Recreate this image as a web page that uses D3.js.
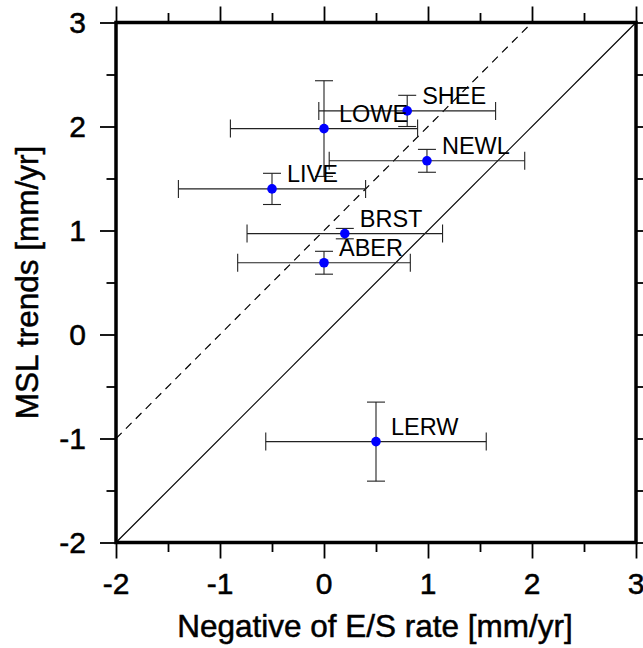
<!DOCTYPE html>
<html>
<head>
<meta charset="utf-8">
<script src="https://cdn.jsdelivr.net/npm/d3@7"></script>
<style>
  body { margin: 0; background: #fff; }
  text { font-family: "Liberation Sans", Arial, sans-serif; fill: #000; }
  .heavy { stroke: #000; stroke-width: 0.5px; }
</style>
</head>
<body>
<div id="chart"></div>
<script>
// station trends: x = negative of E/S rate, y = MSL trend (mm/yr)
const stations = ['SHEE', 'LOWE', 'NEWL', 'LIVE', 'BRST', 'ABER', 'LERW'];
const esRate = [0.80, 0.00, 0.99, -0.50, 0.20, 0.00, 0.50];
const mslTrend = [2.15, 1.98, 1.67, 1.40, 0.97, 0.69, -1.03];
const esErr = [0.85, 0.90, 0.94, 0.90, 0.94, 0.83, 1.06];
const mslErr = [0.15, 0.46, 0.11, 0.15, 0.05, 0.11, 0.38];
const majorTicks = [-2, -1, 0, 1, 2, 3];
const minorTicks = [-1.5, -0.5, 0.5, 1.5, 2.5];

const width = 643, height = 648;
const margin = { top: 22.5, right: 7, bottom: 105.5, left: 116 };
const innerW = width - margin.left - margin.right;
const innerH = height - margin.top - margin.bottom;

const svg = d3.select('#chart').append('svg')
    .attr('width', width)
    .attr('height', height);

const g = svg.append('g')
    .attr('transform', `translate(${margin.left},${margin.top})`);

const x = d3.scaleLinear().domain([-2, 3]).range([0, innerW]);
const y = d3.scaleLinear().domain([-2, 3]).range([innerH, 0]);

// reference lines: 1:1 and offset by 1 mm/yr
const line = d3.line().x(d => x(d[0])).y(d => y(d[1]));
g.append('path')
    .attr('d', line([[-2, -2], [3, 3]]))
    .attr('fill', 'none')
    .attr('stroke', '#000')
    .attr('stroke-width', 1.2);
g.append('path')
    .attr('d', line([[-2, -1], [2, 3]]))
    .attr('fill', 'none')
    .attr('stroke', '#000')
    .attr('stroke-width', 1.2)
    .attr('stroke-dasharray', '8,6');

const data = stations.map((s, i) => ({
    name: s, x: esRate[i], y: mslTrend[i], ex: esErr[i], ey: mslErr[i]
}));

const cap = 9;
const bars = g.selectAll('.bar').data(data).enter().append('g')
    .attr('class', 'bar')
    .attr('stroke', '#222')
    .attr('stroke-width', 1.1)
    .attr('fill', 'none');

bars.append('line')
    .attr('x1', d => x(d.x - d.ex)).attr('x2', d => x(d.x + d.ex))
    .attr('y1', d => y(d.y)).attr('y2', d => y(d.y));
bars.append('line')
    .attr('x1', d => x(d.x - d.ex)).attr('x2', d => x(d.x - d.ex))
    .attr('y1', d => y(d.y) - cap).attr('y2', d => y(d.y) + cap);
bars.append('line')
    .attr('x1', d => x(d.x + d.ex)).attr('x2', d => x(d.x + d.ex))
    .attr('y1', d => y(d.y) - cap).attr('y2', d => y(d.y) + cap);
bars.append('line')
    .attr('x1', d => x(d.x)).attr('x2', d => x(d.x))
    .attr('y1', d => y(d.y - d.ey)).attr('y2', d => y(d.y + d.ey));
bars.append('line')
    .attr('x1', d => x(d.x) - cap).attr('x2', d => x(d.x) + cap)
    .attr('y1', d => y(d.y + d.ey)).attr('y2', d => y(d.y + d.ey));
bars.append('line')
    .attr('x1', d => x(d.x) - cap).attr('x2', d => x(d.x) + cap)
    .attr('y1', d => y(d.y - d.ey)).attr('y2', d => y(d.y - d.ey));

g.selectAll('.dot').data(data).enter().append('circle')
    .attr('class', 'dot')
    .attr('cx', d => x(d.x))
    .attr('cy', d => y(d.y))
    .attr('r', 4.8)
    .attr('fill', '#0000ff');

g.selectAll('.label').data(data).enter().append('text')
    .attr('class', 'label')
    .attr('x', d => x(d.x) + 15)
    .attr('y', d => y(d.y) - 6.5)
    .attr('font-size', '23.5px')
    .text(d => d.name);

// axes: ticks outside on all four sides
function styleAxis(sel) {
    sel.select('.domain').remove();
    sel.selectAll('.tick line').attr('stroke', '#000').attr('stroke-width', 1.8);
}
const bigTick = 16, smallTick = 9.5;

const axes = [
    { ax: d3.axisLeft(y), t: '' },
    { ax: d3.axisRight(y), t: `translate(${innerW},0)` },
    { ax: d3.axisTop(x), t: '' },
    { ax: d3.axisBottom(x), t: `translate(0,${innerH})` }
];
axes.forEach(a => {
    g.append('g').attr('transform', a.t)
        .call(a.ax.tickValues(minorTicks).tickSize(smallTick).tickFormat(''))
        .call(styleAxis);
    g.append('g').attr('transform', a.t)
        .call(a.ax.tickValues(majorTicks).tickSize(bigTick).tickFormat(''))
        .call(styleAxis);
});

// tick labels
g.selectAll('.xlab').data(majorTicks).enter().append('text')
    .attr('class', 'heavy')
    .attr('x', d => x(d))
    .attr('y', innerH + 51)
    .attr('text-anchor', 'middle')
    .attr('font-size', '30px')
    .text(d => d);
g.selectAll('.ylab').data(majorTicks).enter().append('text')
    .attr('class', 'heavy')
    .attr('x', -30)
    .attr('y', d => y(d))
    .attr('dy', '0.36em')
    .attr('text-anchor', 'end')
    .attr('font-size', '30px')
    .text(d => d);

// frame
g.append('rect')
    .attr('width', innerW)
    .attr('height', innerH)
    .attr('fill', 'none')
    .attr('stroke', '#000')
    .attr('stroke-width', 3.5);

// axis titles
svg.append('text')
    .attr('class', 'heavy')
    .attr('x', margin.left + innerW / 2 - 1)
    .attr('y', 637)
    .attr('text-anchor', 'middle')
    .attr('font-size', '31.5px')
    .text('Negative of E/S rate [mm/yr]');
svg.append('text')
    .attr('class', 'heavy')
    .attr('transform', `translate(38,${margin.top + innerH / 2}) rotate(-90)`)
    .attr('text-anchor', 'middle')
    .attr('font-size', '31.5px')
    .text('MSL trends [mm/yr]');
</script>
</body>
</html>
